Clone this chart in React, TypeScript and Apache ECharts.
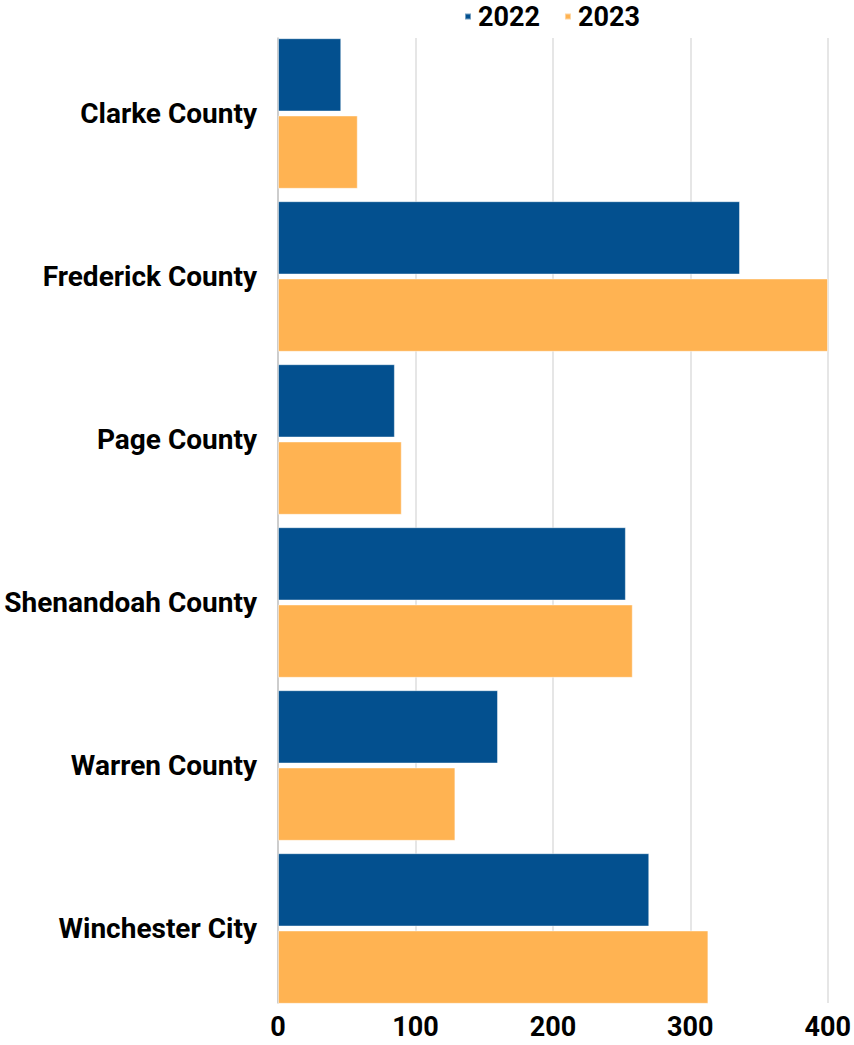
import React, { useEffect, useRef } from "react";
import * as echarts from "echarts";

const categories = [
  "Clarke County",
  "Frederick County",
  "Page County",
  "Shenandoah County",
  "Warren County",
  "Winchester City",
];
const values2022 = [46, 336, 85, 253, 160, 270];
const values2023 = [58, 400, 90, 258, 129, 313];
const seriesNames = ["2022", "2023"];
const xMin = 0;
const xMax = 400;
const xInterval = 100;

const BLUE = "#03508f";
const ORANGE = "#ffb352";
const FONT = "Roboto";

export default function App() {
  const ref = useRef<HTMLDivElement>(null);
  useEffect(() => {
    document.body.style.margin = "0";
    if (!ref.current) return;
    const chart = echarts.init(ref.current, null, { renderer: "svg" });
    chart.setOption({
      animation: false,
      backgroundColor: "#ffffff",
      textStyle: { fontFamily: FONT },
      legend: {
        data: seriesNames,
        left: 464,
        top: 3,
        padding: 0,
        icon: "rect",
        itemWidth: 6,
        itemHeight: 6,
        itemGap: 24,
        textStyle: { fontFamily: FONT, fontSize: 27, fontWeight: "bold", color: "#000", padding: [0, 0, 0, 2] },
      },
      grid: [
        { left: 278, right: 26, top: 32, bottom: 35, containLabel: false },
        { left: 278, right: 26, top: 38, bottom: 42, containLabel: false },
      ],
      xAxis: [
        { type: "value", gridIndex: 0, min: xMin, max: xMax, interval: xInterval, show: false },
        {
          type: "value",
          gridIndex: 1,
          min: xMin,
          max: xMax,
          interval: xInterval,
          axisLine: { show: false },
          axisTick: { show: false },
          splitLine: { show: true, lineStyle: { color: "#dedede", width: 1.5 } },
          axisLabel: { fontFamily: FONT, fontSize: 27, fontWeight: "bold", color: "#000", margin: 10 },
        },
      ],
      yAxis: [
        {
          type: "category",
          gridIndex: 0,
          data: categories,
          inverse: true,
          axisLine: { show: false },
          axisTick: { show: false },
          splitLine: { show: false },
          axisLabel: { fontFamily: FONT, fontSize: 28, fontWeight: "bold", color: "#000", margin: 21 },
        },
        {
          type: "value",
          gridIndex: 1,
          min: 0,
          max: 1,
          axisLine: { show: true, lineStyle: { color: "#c4c4c4", width: 1.5 } },
          axisTick: { show: false },
          axisLabel: { show: false },
          splitLine: { show: false },
        },
      ],
      series: [
        {
          name: seriesNames[0],
          type: "bar",
          xAxisIndex: 0,
          yAxisIndex: 0,
          data: values2022,
          barCategoryGap: "7.6%",
          barGap: "5.4%",
          itemStyle: { color: BLUE, borderColor: "rgba(255,255,255,0.45)", borderWidth: 1 },
        },
        {
          name: seriesNames[1],
          type: "bar",
          xAxisIndex: 0,
          yAxisIndex: 0,
          data: values2023,
          barCategoryGap: "7.6%",
          barGap: "5.4%",
          itemStyle: { color: ORANGE, borderColor: "rgba(255,255,255,0.45)", borderWidth: 1 },
        },
      ],
    });
    return () => chart.dispose();
  }, []);
  return <div ref={ref} style={{ width: 854, height: 1045 }} />;
}
